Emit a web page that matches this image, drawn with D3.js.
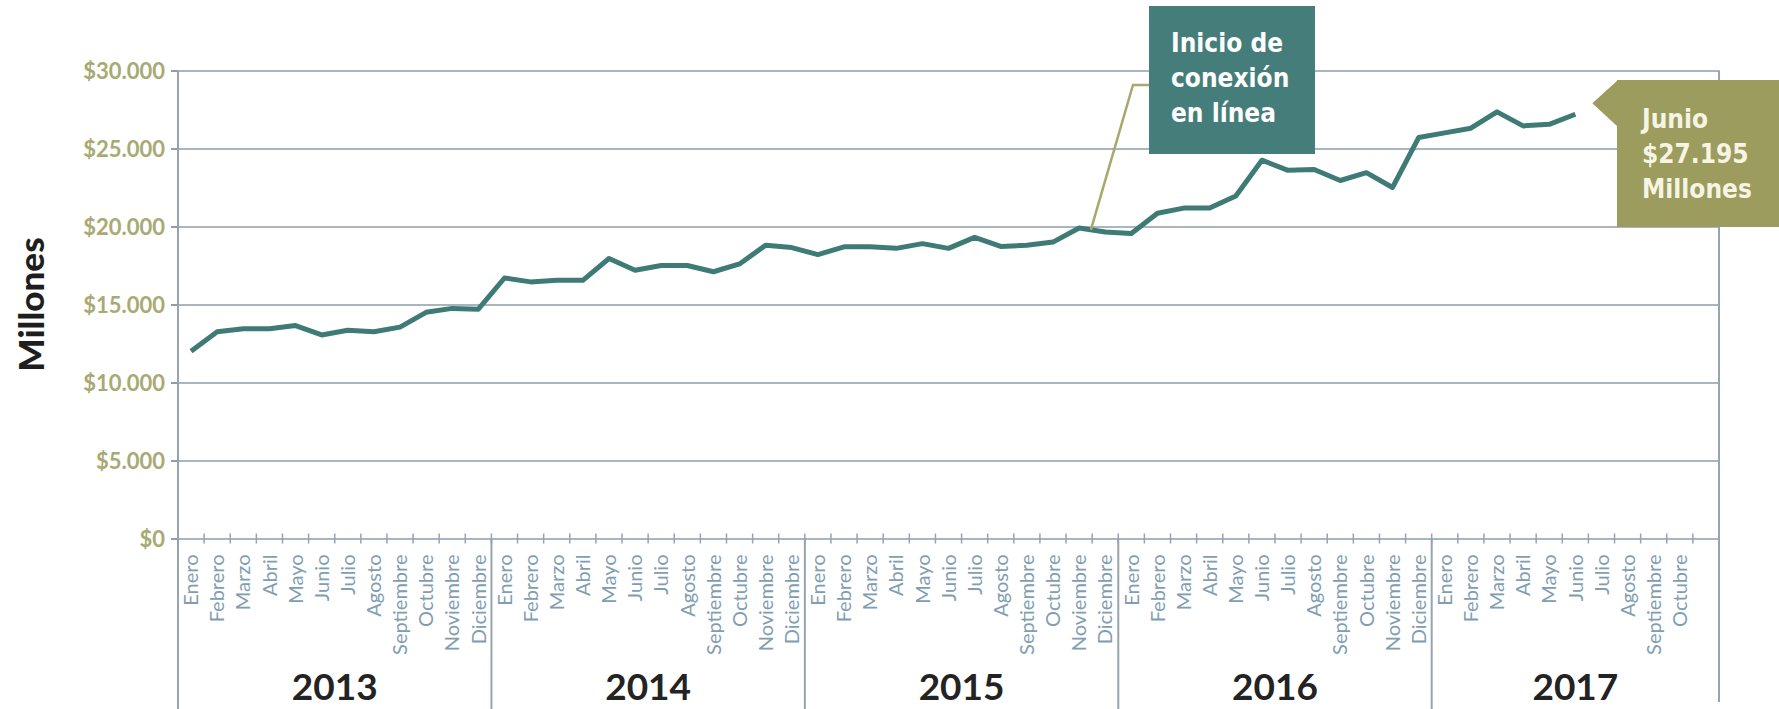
<!DOCTYPE html>
<html>
<head>
<meta charset="utf-8">
<script src="https://cdn.jsdelivr.net/npm/d3@7"></script>
<style>
  body { margin: 0; background: #fff; }
  svg { display: block; }
  .ylab text { font-family: Lato, "Noto Sans", sans-serif; font-weight: 700; font-size: 22px; fill: #a8aa74; }
  .mlab text { font-family: Lato, "Noto Sans", sans-serif; font-size: 20px; fill: #809db2; }
  .note { font-family: "DejaVu Sans Condensed", "Liberation Sans Narrow", Roboto, sans-serif; font-size: 26px; font-weight: 700; }
</style>
</head>
<body>
<svg id="chart"></svg>
<script>
// datos (millones de pesos)
var years = ['2013', '2014', '2015', '2016', '2017'];
var monthNames = ['Enero', 'Febrero', 'Marzo', 'Abril', 'Mayo', 'Junio', 'Julio',
  'Agosto', 'Septiembre', 'Octubre', 'Noviembre', 'Diciembre'];
var monthsPerYear = [12, 12, 12, 12, 11];
var labeledMonths = [12, 12, 12, 12, 10];

var values2013 = [12000, 13250, 13450, 13450, 13650, 13050, 13350, 13250, 13550, 14500, 14750, 14700];
var values2014 = [16700, 16450, 16550, 16550, 17950, 17200, 17500, 17500, 17100, 17600, 18800, 18650];
var values2015 = [18200, 18700, 18700, 18600, 18900, 18600, 19300, 18720, 18800, 19000, 19900, 19650];
var values2016 = [19550, 20850, 21180, 21180, 21950, 24250, 23600, 23650, 22950, 23450, 22500, 25700];
var values2017 = [26000, 26300, 27350, 26450, 26550, 27195];

var yTicks = [0, 5000, 10000, 15000, 20000, 25000, 30000];

var noteOnline = ['Inicio de', 'conexión', 'en línea'];
var noteLast = ['Junio', '$27.195', 'Millones'];

var width = 1779;
var height = 709;
var plotLeft = 178;
var plotRight = 1719;
var plotTop = 70.5;
var plotBottom = 538.5;

var svg = d3.select('#chart')
  .attr('width', width)
  .attr('height', height);

// categorias
var cats = [];
var allValues = [values2013, values2014, values2015, values2016, values2017];
years.forEach(function(yr, yi) {
  for (var m = 0; m < monthsPerYear[yi]; m++) {
    cats.push({
      key: yr + '-' + m,
      year: yr,
      label: m < labeledMonths[yi] ? monthNames[m] : '',
      value: allValues[yi][m]
    });
  }
});

var x = d3.scaleBand()
  .domain(cats.map(function(d) { return d.key; }))
  .range([plotLeft, plotRight])
  .padding(0);

var y = d3.scaleLinear()
  .domain([0, 30000])
  .range([plotBottom, plotTop]);

function cx(key) { return x(key) + x.bandwidth() / 2; }

var fmt = function(d) { return '$' + d3.format(',')(d).replace(/,/g, '.'); };

// grid
svg.append('g')
  .attr('transform', 'translate(' + plotLeft + ',0)')
  .call(d3.axisLeft(y).tickValues(yTicks).tickSize(-(plotRight - plotLeft)).tickFormat(''))
  .call(function(g) {
    g.select('.domain').remove();
    g.selectAll('line').attr('stroke', '#a9b5bf').attr('stroke-width', 2);
  });

// eje y
svg.append('g')
  .attr('class', 'ylab')
  .attr('transform', 'translate(' + plotLeft + ',0)')
  .call(d3.axisLeft(y).tickValues(yTicks).tickSize(7).tickPadding(6).tickFormat(fmt))
  .call(function(g) {
    g.select('.domain').remove();
    g.selectAll('line').attr('stroke', '#8f9ea9').attr('stroke-width', 2);
    g.selectAll('text').attr('dy', '0.36em');
  });

// bordes y divisores de año
var yearStarts = years.map(function(yr) { return x(yr + '-0'); });
svg.append('line')
  .attr('x1', plotLeft).attr('x2', plotLeft)
  .attr('y1', plotTop).attr('y2', height)
  .attr('stroke', '#95a4ae').attr('stroke-width', 2);
svg.append('line')
  .attr('x1', plotRight).attr('x2', plotRight)
  .attr('y1', plotTop).attr('y2', 702)
  .attr('stroke', '#95a4ae').attr('stroke-width', 2);
svg.selectAll('.divider')
  .data(yearStarts.slice(1))
  .enter().append('line')
    .attr('x1', function(d) { return d; })
    .attr('x2', function(d) { return d; })
    .attr('y1', plotBottom)
    .attr('y2', height)
    .attr('stroke', '#95a4ae')
    .attr('stroke-width', 2);

// ticks del eje x (entre meses)
svg.selectAll('.xtick')
  .data(cats.slice(1))
  .enter().append('line')
    .attr('x1', function(d) { return x(d.key); })
    .attr('x2', function(d) { return x(d.key); })
    .attr('y1', plotBottom - 5)
    .attr('y2', plotBottom + 5)
    .attr('stroke', '#95a4ae')
    .attr('stroke-width', 1.5);

// meses
svg.append('g')
  .attr('class', 'mlab')
  .attr('transform', 'translate(0,' + plotBottom + ')')
  .call(d3.axisBottom(x).tickSize(0).tickFormat(function(k) {
    return cats.find(function(c) { return c.key == k; }).label;
  }))
  .call(function(g) {
    g.select('.domain').remove();
    g.selectAll('text')
      .attr('transform', 'rotate(-90)')
      .attr('text-anchor', 'end')
      .attr('x', -16)
      .attr('y', 0)
      .attr('dy', '0.36em');
  });

// años
svg.selectAll('.year')
  .data(years)
  .enter().append('text')
    .attr('x', function(yr, i) {
      var last = yr + '-' + (monthsPerYear[i] - 1);
      return (x(yr + '-0') + x(last) + x.bandwidth()) / 2;
    })
    .attr('y', 700)
    .attr('text-anchor', 'middle')
    .attr('font-family', 'Lato, "Noto Sans", sans-serif')
    .attr('font-weight', 700)
    .attr('font-size', 37)
    .attr('fill', '#232323')
    .text(function(d) { return d; });

// titulo eje
svg.append('text')
  .attr('transform', 'translate(44,' + ((plotTop + plotBottom) / 2) + ') rotate(-90)')
  .attr('text-anchor', 'middle')
  .attr('font-family', 'Lato, "Noto Sans", sans-serif')
  .attr('font-weight', 900)
  .attr('font-size', 35)
  .attr('fill', '#1e1e1e')
  .text('Millones');

// linea
var withData = cats.filter(function(d) { return d.value != null; });
var line = d3.line()
  .x(function(d) { return cx(d.key); })
  .y(function(d) { return y(d.value); });

svg.append('path')
  .datum(withData)
  .attr('d', line)
  .attr('fill', 'none')
  .attr('stroke', '#3f7b76')
  .attr('stroke-width', 5)
  .attr('stroke-linejoin', 'round');

// nota: inicio de conexion
var nov = cats.find(function(c) { return c.key == '2015-10'; });
var dic = cats.find(function(c) { return c.key == '2015-11'; });
var t = 0.45;
var lx = cx(nov.key) + (cx(dic.key) - cx(nov.key)) * t;
var ly = y(nov.value) + (y(dic.value) - y(nov.value)) * t;
var box1 = { x: 1149, y: 6, w: 166, h: 148 };

svg.append('polyline')
  .attr('points', [[lx, ly], [box1.x - 16, 85], [box1.x, 85]].map(function(p) { return p.join(','); }).join(' '))
  .attr('fill', 'none')
  .attr('stroke', '#a8a86c')
  .attr('stroke-width', 2.5);

svg.append('rect')
  .attr('x', box1.x).attr('y', box1.y)
  .attr('width', box1.w).attr('height', box1.h)
  .attr('fill', '#447d79');

svg.append('g').selectAll('text')
  .data(noteOnline)
  .enter().append('text')
    .attr('class', 'note')
    .attr('x', box1.x + 22)
    .attr('y', function(d, i) { return 52 + i * 35; })
    .attr('fill', '#ffffff')
    .text(function(d) { return d; });

// nota: junio 2017
var jun = cats.find(function(c) { return c.key == '2017-5'; });
var tipX = cx(jun.key) + 17;
var tipY = y(jun.value) - 11;
var box2 = { x: 1617, y: 80, w: width - 1617, h: 147 };

svg.append('path')
  .attr('d', 'M' + tipX + ',' + tipY + 'L' + (box2.x + 1) + ',' + box2.y + 'L' + (box2.x + 1) + ',' + (box2.y + 47) + 'Z')
  .attr('fill', '#9b9c5d');

svg.append('rect')
  .attr('x', box2.x).attr('y', box2.y)
  .attr('width', box2.w).attr('height', box2.h)
  .attr('fill', '#9b9c5d');

svg.append('g').selectAll('text')
  .data(noteLast)
  .enter().append('text')
    .attr('class', 'note')
    .attr('x', box2.x + 25)
    .attr('y', function(d, i) { return 128 + i * 35; })
    .attr('fill', '#f7f4e4')
    .text(function(d) { return d; });
</script>
</body>
</html>
